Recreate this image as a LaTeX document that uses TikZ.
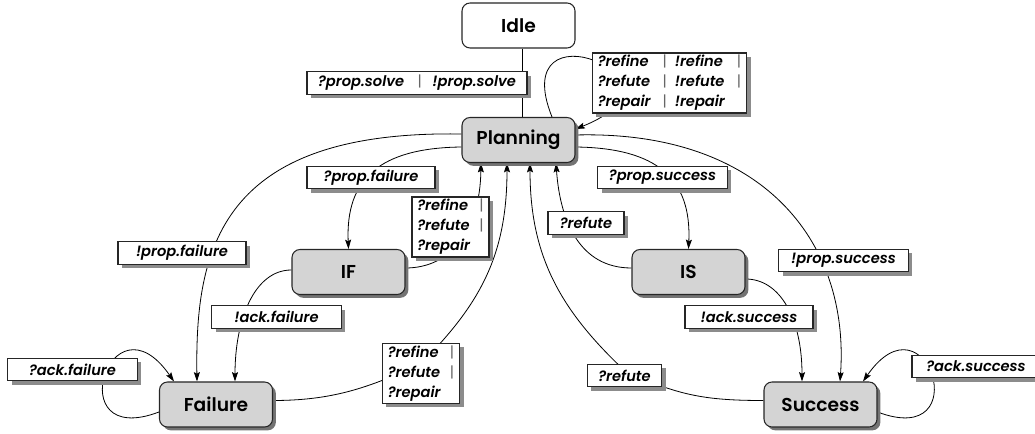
\documentclass[tikz,border=0pt]{standalone}
\usepackage{fontspec}
\setmainfont{Poppins}
\newfontfamily\statefont{Poppins SemiBold}
\newfontfamily\labfont{Poppins SemiBold Italic}
\usetikzlibrary{arrows.meta,shadows,backgrounds,calc}

\newcommand{\orbar}{\textcolor{black!60}{\normalfont|}}

\begin{document}
\begin{tikzpicture}[x=0.75pt,y=0.75pt,yscale=-1,xscale=1,
  plainst/.style={draw=black!85,line width=0.8pt,rounded corners=6pt,fill=white,
    minimum width=84.75pt,minimum height=33.75pt,inner sep=0pt,
    font=\fontsize{14}{16}\statefont},
  state/.style={plainst,fill=black!17,
    drop shadow={shadow xshift=2.5pt,shadow yshift=-2.5pt,fill=black!55,draw=none,opacity=1}},
  lab/.style={draw=black!85,line width=0.8pt,fill=white,inner sep=2pt,
    minimum height=17pt,font=\fontsize{11}{15}\labfont,
    drop shadow={shadow xshift=3pt,shadow yshift=-3pt,fill=black!45,draw=none,opacity=1}},
  multilab/.style={lab,inner ysep=0pt,inner xsep=4pt},
  edge/.style={line width=0.6pt},
  arr/.style={edge,-{Stealth[length=7pt,width=4.5pt,inset=1.2pt]}}]
\useasboundingbox (0,0) rectangle (1035,434);

% States
\node[plainst] (idle) at (518.5,25.5) {Idle};
\node[state] (plan) at (518.5,140) {Planning};
\node[state] (if) at (348.5,272) {IF};
\node[state] (is) at (688.5,272) {IS};
\node[state] (fail) at (216,404.5) {Failure};
\node[state] (succ) at (820.5,404.5) {Success};

% Text Nodes
\node[lab,minimum width=165pt] (lsolve) at (417,83) {?prop.solve\hspace{10pt}\orbar\hspace{8pt}!prop.solve};
\node[multilab,minimum width=113pt,minimum height=45pt] (lref) at (669.5,83) {%
  \begin{tabular}{@{}l@{\hspace{9pt}}c@{\hspace{6pt}}l@{\hspace{9pt}}c@{}}
  ?refine & \orbar & !refine & \orbar\\
  ?refute & \orbar & !refute & \orbar\\
  ?repair & \orbar & !repair &
  \end{tabular}};
\node[lab,minimum width=96pt] (lpfail) at (371,177.5) {?prop.failure};
\node[lab,minimum width=96pt] (lnpfail) at (182,253) {!prop.failure};
\node[multilab,minimum width=56pt,minimum height=45pt] (lifref) at (450.5,227) {%
  \begin{tabular}{@{}l@{\hspace{7pt}}c@{}}
  ?refine & \orbar\\
  ?refute & \orbar\\
  ?repair &
  \end{tabular}};
\node[lab,minimum width=97pt] (lpsucc) at (662.5,177.5) {?prop.success};
\node[lab,minimum width=57pt] (lisref) at (586,223) {?refute};
\node[lab,minimum width=97pt] (lnpsucc) at (843.5,260.5) {!prop.success};
\node[lab,minimum width=97pt] (lnafail) at (276.5,317) {!ack.failure};
\node[lab,minimum width=97pt] (lafail) at (72.5,369.5) {?ack.failure};
\node[multilab,minimum width=57pt,minimum height=44pt] (lfref) at (421,373.5) {%
  \begin{tabular}{@{}l@{\hspace{7pt}}c@{}}
  ?refine & \orbar\\
  ?refute & \orbar\\
  ?repair &
  \end{tabular}};
\node[lab,minimum width=96pt] (lnasucc) at (749,317) {!ack.success};
\node[lab,minimum width=56pt] (lsref) at (624.5,375.5) {?refute};
\node[lab,minimum width=96pt] (lasucc) at (976,366.5) {?ack.success};

\begin{scope}[on background layer]
%Straight Lines
\draw[edge] ($(idle.south)+(4,0)$) -- ($(plan.north)+(4,0)$);
%Curve Lines
\draw[arr] ($(plan.north)+(33.5,0)$) .. controls +(-47,-117) and +(125,-49) .. ($(plan.east)+(0,-11)$);
\draw[arr] ($(plan.west)+(0,-6)$) .. controls +(-242,-4) and +(-2,-132) .. ($(fail.north)+(-19,0)$);
\draw[arr] ($(plan.west)+(0,7)$) .. controls +(-82,1) and +(-3,-70) .. (if.north);
\draw[arr] ($(if.east)+(0,-4)$) .. controls +(45,0) and +(-1,68) .. ($(plan.south)+(-37.5,0)$);
\draw[arr] ($(if.west)+(0,-2)$) .. controls +(-37,0) and +(0,-62) .. ($(fail.north)+(19,0)$);
\draw[arr] ($(fail.west)+(0,7.5)$) .. controls +(-100,38) and +(-64,-92) .. ($(fail.north)+(-42,0)$);
\draw[arr] ($(fail.east)+(0,-4)$) .. controls +(58,0) and +(-53,25) .. ($(lfref.center)+(0,-10)$)
  .. controls +(60,-60) and +(0,91) .. ($(plan.south)+(-11.5,0)$);
\draw[arr] ($(plan.east)+(0,7)$) .. controls +(82,1) and +(3,-70) .. (is.north);
\draw[arr] ($(is.west)+(0,-4)$) .. controls +(-52,0) and +(4,57.5) .. ($(plan.south)+(37.5,0)$);
\draw[arr] ($(plan.east)+(0,-5)$) .. controls +(185,-5) and +(10,-142) .. ($(succ.north)+(19.5,0)$);
\draw[arr] ($(is.east)+(0,7)$) .. controls +(35,0) and +(0,-62) .. ($(succ.north)+(-18.5,0)$);
\draw[arr] ($(succ.east)+(0,7.5)$) .. controls +(100,38) and +(64,-92) .. ($(succ.north)+(42.5,0)$);
\draw[arr] ($(succ.west)+(0,-4)$) .. controls +(-58,0) and +(53,25) .. ($(lsref.center)+(0,-5)$)
  .. controls +(-66,-62) and +(0,91) .. ($(plan.south)+(11.5,0)$);
\end{scope}

\end{tikzpicture}
\end{document}
